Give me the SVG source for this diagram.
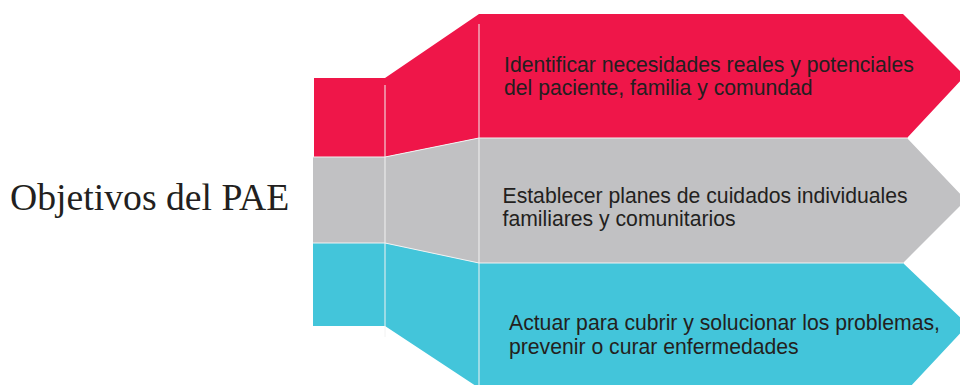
<svg xmlns="http://www.w3.org/2000/svg" width="960" height="385" viewBox="0 0 960 385">
<style>
.band-red{fill:#EF1649}
.band-gray{fill:#C1C1C3}
.band-cyan{fill:#43C5DA}
.sep{fill:none;stroke:#F2F2F2;stroke-width:1}
.label{font-family:"Liberation Sans",Arial,sans-serif;font-size:21.2px;fill:#231F20}
.title{font-family:"Liberation Serif","Times New Roman",serif;font-size:37.7px;fill:#231F20}
</style>
<rect width="960" height="385" fill="#FFFFFF"/>
<g id="title">
<text class="title" x="10" y="210">Objetivos del PAE</text>
</g>
<g id="band-1">
<polygon class="band-red" points="314,78 385,78 479,14 903,14 965,76 907,138 479,138 385,157 314,157"/>
<text class="label" x="504" y="72">Identificar necesidades reales y potenciales</text>
<text class="label" x="504" y="95">del paciente, familia y comundad</text>
</g>
<g id="band-2">
<polygon class="band-gray" points="313,157 385,157 479,138 907,138 966,200 903,263 479,263 385,243 313,243"/>
<text class="label" x="502.5" y="203">Establecer planes de cuidados individuales</text>
<text class="label" x="502.5" y="226">familiares y comunitarios</text>
</g>
<g id="band-3">
<polygon class="band-cyan" points="313,243 385,243 479,263 903,263 968,325 909,388 479,388 385,326 313,326"/>
<text class="label" x="509" y="330">Actuar para cubrir y solucionar los problemas,</text>
<text class="label" x="509" y="354">prevenir o curar enfermedades</text>
</g>
<g id="connectors">
<polyline class="sep" points="313,157 385,157 479,138 907,138"/>
<polyline class="sep" points="313,243 385,243 479,263 903,263"/>
<line class="sep" x1="385" y1="85" x2="385" y2="337"/>
<line class="sep" x1="479" y1="24" x2="479" y2="385"/>
</g>
</svg>
